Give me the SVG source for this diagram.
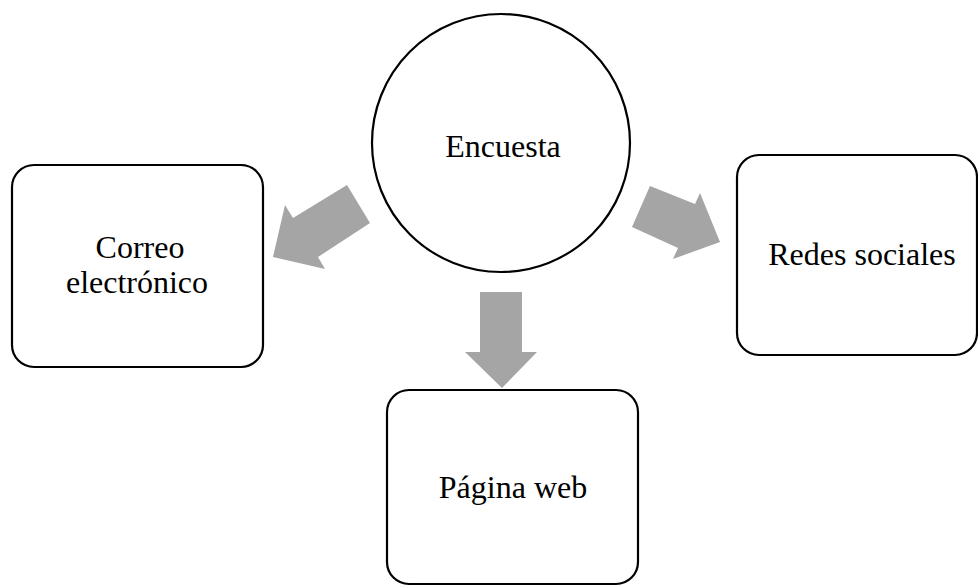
<svg xmlns="http://www.w3.org/2000/svg" width="978" height="586" viewBox="0 0 978 586">
  <style>
    .node { fill: #ffffff; stroke: #000000; stroke-width: 2.2; }
    .label { font-family: "Liberation Serif", "Times New Roman", serif; font-size: 32px; fill: #000000; text-anchor: middle; }
    .arrow { fill: #a5a5a5; stroke: none; }
  </style>
  <rect width="978" height="586" fill="#ffffff"/>

  <g id="connectors">
    <polygon class="arrow" points="347,185 370,223 318,257 325,269 273,257 285,205 293,218"/>
    <polygon class="arrow" points="650,186 632,227 678,248 673,259 720,242 700,193 695,204"/>
    <polygon class="arrow" points="480,292 522,292 522,352 537,352 502,388 465,352 480,352"/>
  </g>

  <g id="encuesta">
    <circle class="node" cx="501" cy="143" r="129"/>
    <text class="label" x="503" y="157">Encuesta</text>
  </g>

  <g id="correo">
    <rect class="node" x="12" y="165" width="251" height="202" rx="22" ry="22"/>
    <text class="label" x="140" y="258">Correo</text>
    <text class="label" x="137" y="293">electrónico</text>
  </g>

  <g id="redes">
    <rect class="node" x="737" y="155" width="240" height="200" rx="22" ry="22"/>
    <text class="label" x="862" y="265">Redes sociales</text>
  </g>

  <g id="pagina">
    <rect class="node" x="387" y="390" width="251" height="194" rx="22" ry="22"/>
    <text class="label" x="513" y="498">Página web</text>
  </g>
</svg>
